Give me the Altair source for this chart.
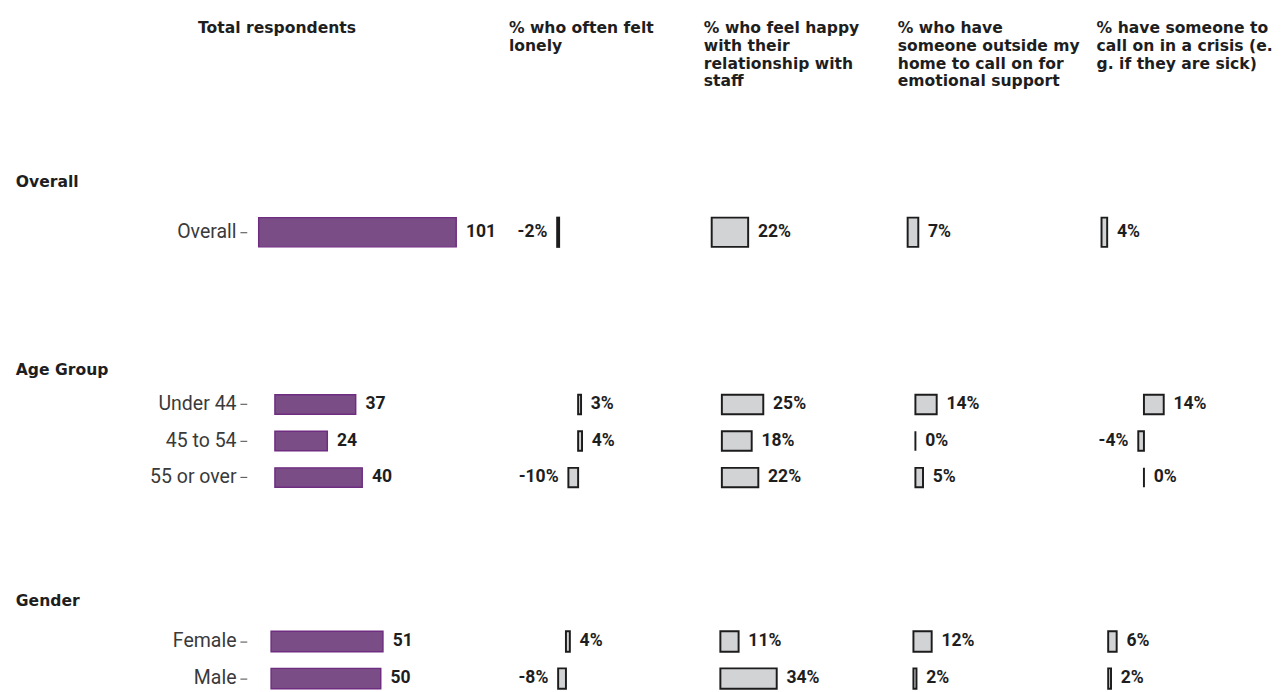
import altair as alt
import pandas as pd

# ---------------- data ----------------
header_total = ["Total respondents"]
header_lonely = ["% who often felt", "lonely"]
header_happy = ["% who feel happy", "with their", "relationship with", "staff"]
header_emotional = ["% who have", "someone outside my", "home to call on for", "emotional support"]
header_crisis = ["% have someone to", "call on in a crisis (e.", "g. if they are sick)"]

section_names = ["Overall", "Age Group", "Gender"]
row_section = ["Overall", "Age Group", "Age Group", "Age Group", "Gender", "Gender"]
row_group = ["Overall", "Under 44", "45 to 54", "55 or over", "Female", "Male"]
total_respondents = [101, 37, 24, 40, 51, 50]
pct_lonely = [-2, 3, 4, -10, 4, -8]
pct_happy = [22, 25, 18, 22, 11, 34]
pct_emotional = [7, 14, 0, 5, 12, 2]
pct_crisis = [4, 14, -4, 0, 6, 2]

# ---------------- layout / scale config ----------------
metrics = ["respondents", "lonely", "happy", "emotional", "crisis"]
headers = [header_total, header_lonely, header_happy, header_emotional, header_crisis]
header_dx = [-50, 24, 31, 37, 17]
panel_widths = [245, 193, 193, 193, 193]
x_domains = {
    "Overall":   {"respondents": [-6.1, 116.0], "lonely": [-64.5, 128.5], "happy": [-16.5, 97.0],
                  "emotional": [-23.15, 100.55], "crisis": [-29.0, 104.1]},
    "Age Group": {"respondents": [-12.9, 96.5], "lonely": [-95.0, 98.0], "happy": [-29.1, 84.4],
                  "emotional": [-35.3, 88.4], "crisis": [-66.6, 66.5]},
    "Gender":    {"respondents": [-11.1, 97.8], "lonely": [-82.5, 110.5], "happy": [-28.2, 85.3],
                  "emotional": [-34.0, 89.7], "crisis": [-41.3, 91.8]},
}
section_height = {"Overall": 60, "Age Group": 112.5, "Gender": 76}
section_bar = {"Overall": 30, "Age Group": 20, "Gender": 21}
section_title_offset = {"Overall": 13, "Age Group": 9, "Gender": 14}

PURPLE = "#7b4d87"
PURPLE_EDGE = "#6e2d80"
GREY = "#d2d3d5"
EDGE = "#1c1c1c"
TEXT = "#1e1e1e"
AXIS_W = 237

df = pd.DataFrame({
    "section": row_section,
    "group": row_group,
    "respondents": total_respondents,
    "lonely": pct_lonely,
    "happy": pct_happy,
    "emotional": pct_emotional,
    "crisis": pct_crisis,
})


def y_enc(section, show_axis):
    groups = [g for s, g in zip(row_section, row_group) if s == section]
    axis = None
    if show_axis:
        axis = alt.Axis(domain=False, ticks=True, tickSize=7, tickColor="#444444", tickWidth=1,
                        labelFont="Roboto", labelFontSize=20, labelFontWeight="normal",
                        labelColor="#3a3a3a", labelPadding=4, minExtent=AXIS_W,
                        maxExtent=AXIS_W, grid=False, title=None)
    return alt.Y("group:N", title=None, axis=axis,
                 scale=alt.Scale(domain=groups, paddingInner=0, paddingOuter=0))


def panel(section, metric, width):
    base = alt.Chart(df).transform_filter(alt.datum.section == section)
    dom = x_domains[section][metric]
    x = alt.X(f"{metric}:Q", scale=alt.Scale(domain=dom, nice=False, zero=False), axis=None)
    first = metric == "respondents"
    y = y_enc(section, first)
    size = section_bar[section]
    if first:
        bars = base.mark_bar(size=size, fill=PURPLE, stroke=PURPLE_EDGE, strokeWidth=1.5).encode(x=x, y=y)
        txt = base.mark_text(align="left", dx=10, font="Roboto", fontSize=18, fontWeight="bold",
                             color=TEXT).encode(x=x, y=y, text=alt.Text(f"{metric}:Q", format="d"))
        layers = [bars, txt]
    else:
        lab = base.transform_calculate(label=f"datum['{metric}'] + '%'")
        bars = base.mark_bar(size=size, fill=GREY, stroke=EDGE, strokeWidth=2).encode(x=x, y=y)
        pos = lab.transform_filter(f"datum['{metric}'] >= 0").mark_text(
            align="left", dx=10, font="Roboto", fontSize=18, fontWeight="bold", color=TEXT
        ).encode(x=x, y=y, text="label:N")
        neg = lab.transform_filter(f"datum['{metric}'] < 0").mark_text(
            align="right", dx=-10, font="Roboto", fontSize=18, fontWeight="bold", color=TEXT
        ).encode(x=x, y=y, text="label:N")
        layers = [bars, pos, neg]
    return alt.layer(*layers).properties(width=width, height=section_height[section])


def section_chart(section):
    panels = [panel(section, m, w) for m, w in zip(metrics, panel_widths)]
    return alt.hconcat(*panels, spacing=0).properties(
        title=alt.TitleParams(section, anchor="start", font="DejaVu Sans", fontSize=16,
                              fontWeight="bold", color=TEXT, offset=section_title_offset[section])
    )


dummy = pd.DataFrame({"a": [0]})


def header_panel(lines, width, dx):
    return alt.Chart(dummy).mark_text(
        text=lines, align="left", baseline="top", font="DejaVu Sans", fontSize=16,
        fontWeight="bold", lineHeight=18, color=TEXT
    ).encode(
        x=alt.value(dx), y=alt.value(0)
    ).properties(width=width, height=75)


header_row = alt.hconcat(
    *[header_panel(h, w, d) for h, w, d in zip(headers, panel_widths, header_dx)],
    spacing=0,
)

overall_c, age_c, gender_c = [section_chart(s) for s in section_names]
body = alt.vconcat(alt.vconcat(overall_c, age_c, spacing=103), gender_c, spacing=100)

chart = alt.vconcat(header_row, body, spacing=83).properties(
    padding={"left": 8, "top": 4, "right": 0, "bottom": 0}
).configure(background="white", view=alt.ViewConfig(stroke=None))

chart.save("out.html", embed_options={"renderer": "svg", "actions": False})
